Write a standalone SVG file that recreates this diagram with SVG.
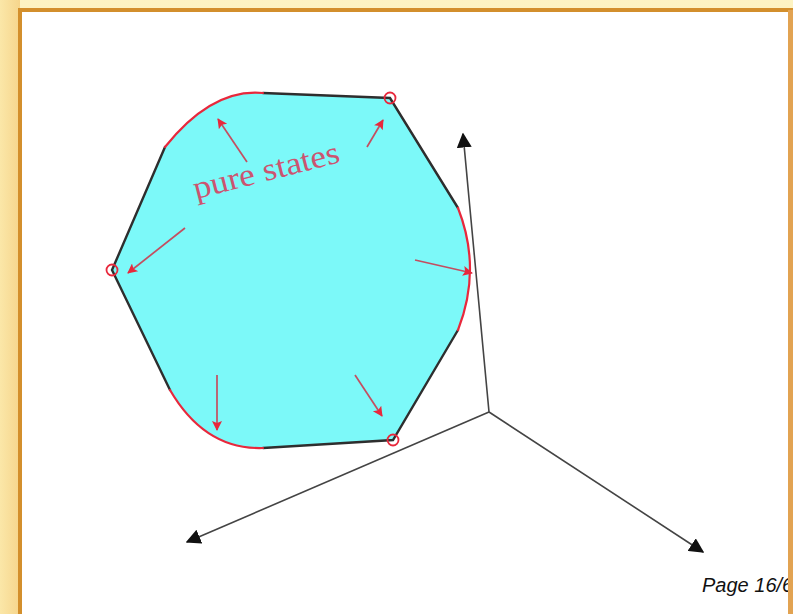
<svg xmlns="http://www.w3.org/2000/svg" width="793" height="614" viewBox="0 0 793 614">
<defs>
<linearGradient id="bg" x1="0" y1="0" x2="0" y2="1">
<stop offset="0" stop-color="#FDF3C2"/>
<stop offset="1" stop-color="#FAE3A0"/>
</linearGradient>
<linearGradient id="leftbg" x1="0" y1="0" x2="1" y2="0">
<stop offset="0" stop-color="#FBE7A8"/>
<stop offset="1" stop-color="#F6D58C"/>
</linearGradient>
<marker id="ax" viewBox="0 0 10 10" refX="9" refY="5" markerWidth="15" markerHeight="15" markerUnits="userSpaceOnUse" orient="auto">
<path d="M0,0 L10,5 L0,10 Z" fill="#111"/>
</marker>
<marker id="ra" viewBox="0 0 10 10" refX="9" refY="5" markerWidth="14" markerHeight="10" markerUnits="userSpaceOnUse" orient="auto">
<path d="M0,0 L10,5 L0,10 L2,5 Z" fill="#E8283C"/>
</marker>
<style>
.edge{fill:none;stroke:#2E2E2E;stroke-width:2.4;stroke-linecap:round}
.arc{fill:none;stroke:#E8283C;stroke-width:2.2;stroke-linecap:round}
.vtx{fill:none;stroke:#E8283C;stroke-width:1.8}
.axis{fill:none;stroke:#444;stroke-width:1.6}
.parr{fill:none;stroke:#C44E60;stroke-width:1.7}
.lbl{font-family:"Liberation Serif","Times New Roman",serif;fill:#CC5470}
.pg{font-family:"Liberation Sans",Arial,sans-serif;font-style:italic;fill:#111}
</style>
</defs>
<rect x="0" y="0" width="793" height="614" fill="url(#bg)"/>
<rect x="0" y="0" width="20" height="614" fill="url(#leftbg)"/>
<rect x="21" y="10" width="770" height="610" fill="#FFFFFF"/>

<g id="state-region">
<path d="M165,147 Q212,88 263,93 L390,98 L458,208 Q482,269 458,330 L393,440 L263,448 Q205,450 170,390 L112,270 Z" fill="#7CF9F9" stroke="none"/>
<path class="edge" d="M263,93 L390,98 L458,208"/>
<path class="edge" d="M458,330 L393,440 L263,448"/>
<path class="edge" d="M170,390 L112,270 L165,147"/>
<path class="arc" d="M165,147 Q212,88 263,93"/>
<path class="arc" d="M458,208 Q482,269 458,330"/>
<path class="arc" d="M263,448 Q205,450 170,390"/>
</g>

<g id="vertices">
<circle class="vtx" cx="390" cy="98" r="5.5"/>
<circle class="vtx" cx="112" cy="270" r="5.5"/>
<circle class="vtx" cx="393" cy="440" r="5.5"/>
</g>

<g id="axes">
<line class="axis" x1="489" y1="412" x2="463" y2="134" marker-end="url(#ax)"/>
<line class="axis" x1="489" y1="412" x2="187" y2="542" marker-end="url(#ax)"/>
<line class="axis" x1="489" y1="412" x2="703" y2="552" marker-end="url(#ax)"/>
</g>

<g id="pointers">
<line class="parr" x1="247" y1="162" x2="218" y2="119" marker-end="url(#ra)"/>
<line class="parr" x1="367" y1="147" x2="383" y2="120" marker-end="url(#ra)"/>
<line class="parr" x1="185" y1="228" x2="128" y2="273" marker-end="url(#ra)"/>
<line class="parr" x1="415" y1="260" x2="472" y2="273" marker-end="url(#ra)"/>
<line class="parr" x1="217" y1="375" x2="217" y2="430" marker-end="url(#ra)"/>
<line class="parr" x1="355" y1="375" x2="382" y2="416" marker-end="url(#ra)"/>
</g>

<g id="label">
<text class="lbl" x="196" y="199" font-size="32" transform="rotate(-14.3 196 199)" textLength="150" lengthAdjust="spacingAndGlyphs">pure states</text>
</g>

<text class="pg" x="702" y="592" font-size="20">Page 16/6</text>

<g id="frame">
<line x1="20" y1="9" x2="20" y2="614" stroke="#D38F2C" stroke-width="4"/>
<line x1="18" y1="10" x2="793" y2="10" stroke="#D38F2C" stroke-width="4"/>
<rect x="788" y="10" width="5" height="604" fill="#E2A352"/>
</g>
</svg>
